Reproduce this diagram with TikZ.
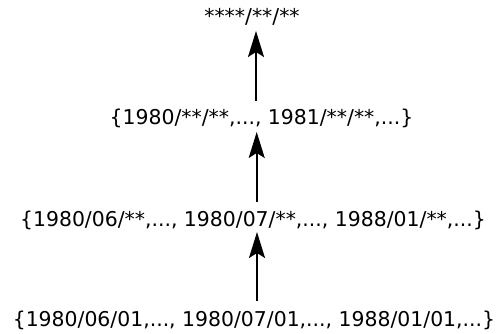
\documentclass[tikz,border=0pt]{standalone}
\usepackage{fontspec}
\setmainfont{DejaVu Sans}
\usetikzlibrary{arrows.meta}
\begin{document}
\begin{tikzpicture}[x=1pt,y=1pt,
  lvl/.style={anchor=base,inner sep=0pt,font=\fontsize{20.4}{24}\selectfont},
  arr/.style={line width=1.8pt,-{Stealth[length=26pt,width=16pt,inset=5pt]}}]
\useasboundingbox (0,0) rectangle (498,334);
% hierarchy levels, from whole dates up to the fully masked pattern
\node[lvl] (days)   at (254,7.4)   {\{1980/06/01,..., 1980/07/01,..., 1988/01/01,...\}};
\node[lvl] (months) at (253,107.4) {\{1980/06/**,..., 1980/07/**,..., 1988/01/**,...\}};
\node[lvl] (years)  at (261.5,209.4) {\{1980/**/**,..., 1981/**/**,...\}};
\node[lvl] (top)    at (252,310)   {****/**/**};
% generalisation arrows
\draw[arr] ([xshift=3pt,yshift=25.6pt]days.base) -- ([xshift=4pt,yshift=-5.4pt]months.base);
\draw[arr] ([xshift=3.7pt,yshift=24.6pt]months.base) -- ([xshift=-4.8pt,yshift=-7.4pt]years.base);
\draw[arr] ([xshift=-5.5pt,yshift=23.6pt]years.base) -- ([xshift=4pt,yshift=-7pt]top.base);
\end{tikzpicture}
\end{document}
